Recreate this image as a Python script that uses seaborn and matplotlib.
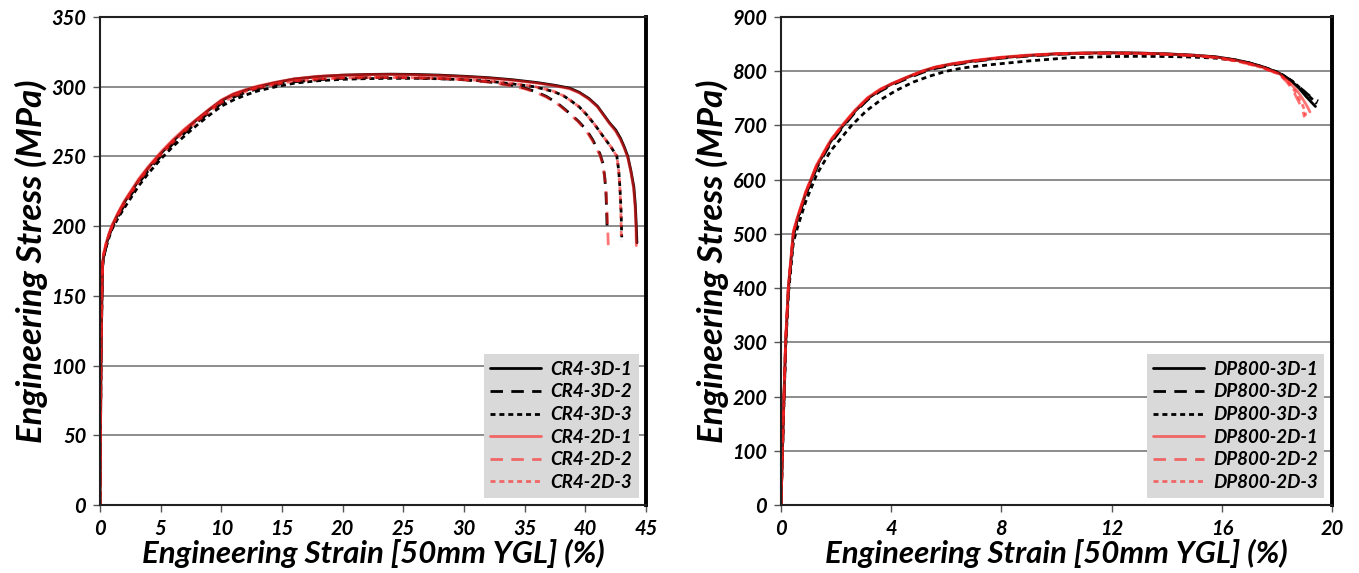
import matplotlib
matplotlib.use("Agg")
import matplotlib.pyplot as plt
import seaborn as sns

# ---------------- data: CR4 ----------------
cr4_labels = ["CR4-3D-1", "CR4-3D-2", "CR4-3D-3", "CR4-2D-1", "CR4-2D-2", "CR4-2D-3"]
cr4_3d1_strain = [0, 0.08, 0.16, 0.22, 0.3, 0.5, 0.75, 1.0, 1.5, 2.0, 2.6, 3.2, 4.0, 5.0, 6.0, 7.0, 8.0, 9.0, 10.0, 11.0, 12.0, 13.0, 14.5, 16.0, 18.0, 20.0, 22.0, 24.0, 26.0, 28.0, 30.0, 32.0, 34.0, 36.0, 37.5, 38.7, 39.5, 40.3, 41.0, 41.5, 42.0, 42.5, 42.9, 43.2, 43.5, 43.75, 44.0, 44.12, 44.2, 44.25]
cr4_3d1_stress = [0, 100, 150, 172, 178, 186, 194, 200, 209, 217, 225, 233, 242, 252, 261, 269, 276.5, 283.5, 290, 294.5, 297.5, 300, 303, 305.5, 307.3, 308.3, 308.8, 309, 308.8, 308.3, 307.5, 306.5, 305, 303, 301, 299, 296, 291.5, 286, 280, 274, 269, 263, 257, 250, 240, 228, 215, 200, 188]
cr4_3d2_strain = [0, 0.08, 0.16, 0.22, 0.3, 0.5, 0.75, 1.0, 1.5, 2.0, 2.6, 3.2, 4.0, 5.0, 6.0, 7.0, 8.0, 9.0, 10.0, 11.0, 12.0, 13.0, 14.5, 16.0, 18.0, 20.0, 22.0, 24.0, 26.0, 28.0, 30.0, 32.0, 34.0, 35.0, 35.9, 36.8, 37.8, 38.7, 39.4, 40.1, 40.6, 40.9, 41.2, 41.45, 41.6, 41.7, 41.76, 41.8]
cr4_3d2_stress = [0, 100, 150, 172, 178, 185, 193, 199, 207, 215, 223, 231, 240, 250, 259, 267, 274.5, 281.5, 288, 292.5, 296, 298.5, 301.5, 303.5, 305, 306, 306.5, 306.5, 306.3, 305.8, 305, 303.5, 301, 299, 296.5, 293, 287.5, 281, 275.5, 269, 262, 257, 252, 245, 235, 224, 210, 196]
cr4_3d3_strain = [0, 0.08, 0.16, 0.22, 0.3, 0.5, 0.75, 1.0, 1.5, 2.0, 2.6, 3.2, 4.0, 5.0, 6.0, 7.0, 8.0, 9.0, 10.0, 11.0, 12.0, 13.0, 14.5, 16.0, 18.0, 20.0, 22.0, 24.0, 26.0, 28.0, 30.0, 32.0, 34.0, 35.8, 37.4, 38.2, 38.8, 39.5, 40.1, 40.8, 41.5, 42.1, 42.6, 42.75, 42.85, 42.95, 43.0]
cr4_3d3_stress = [0, 100, 150, 172, 178, 185, 192, 198, 206, 213, 221, 229, 238, 248, 257, 265, 272.5, 279.5, 286, 290.5, 294, 297, 300, 302.5, 304.3, 305.3, 305.8, 306, 306, 305.7, 305, 304, 302, 300, 296.5, 293.5, 290, 285.5, 280, 272.5, 264, 257, 250, 240, 228, 210, 192]
cr4_2d1_strain = [0, 0.08, 0.16, 0.22, 0.3, 0.5, 0.75, 1.0, 1.5, 2.0, 2.6, 3.2, 4.0, 5.0, 6.0, 7.0, 8.0, 9.0, 10.0, 11.0, 12.0, 13.0, 14.5, 16.0, 18.0, 20.0, 22.0, 24.0, 26.0, 28.0, 30.0, 32.0, 34.0, 36.0, 37.5, 38.7, 39.5, 40.3, 41.0, 41.5, 42.0, 42.5, 42.9, 43.2, 43.5, 43.75, 43.98, 44.1, 44.17, 44.2]
cr4_2d1_stress = [0, 105, 155, 174, 180, 188, 195, 201, 210, 218, 226, 234, 243, 253, 262, 270, 277, 284, 290.5, 295, 298, 300.5, 303.3, 305.7, 307.5, 308.3, 308.7, 308.8, 308.5, 308, 307.2, 306.2, 304.6, 302.6, 300.6, 298.5, 295.5, 291, 285.5, 279.5, 273.5, 268, 262, 256, 249, 239, 227, 214, 200, 186]
cr4_2d2_strain = [0, 0.08, 0.16, 0.22, 0.3, 0.5, 0.75, 1.0, 1.5, 2.0, 2.6, 3.2, 4.0, 5.0, 6.0, 7.0, 8.0, 9.0, 10.0, 11.0, 12.0, 13.0, 14.5, 16.0, 18.0, 20.0, 22.0, 24.0, 26.0, 28.0, 30.0, 32.0, 34.0, 35.0, 35.9, 36.8, 37.8, 38.7, 39.4, 40.1, 40.6, 40.9, 41.2, 41.45, 41.62, 41.74, 41.83, 41.9]
cr4_2d2_stress = [0, 105, 155, 174, 180, 187, 194, 200, 209, 217, 225, 233, 242, 252, 261, 269, 276, 283, 289.5, 294, 297, 299.5, 302.3, 304.3, 305.7, 306.5, 306.8, 306.8, 306.5, 306, 305, 303.3, 300.5, 298.5, 296, 292.5, 287, 280.5, 275, 268, 261, 256, 251, 244, 233, 220, 202, 184]
cr4_2d3_strain = [0, 0.08, 0.16, 0.22, 0.3, 0.5, 0.75, 1.0, 1.5, 2.0, 2.6, 3.2, 4.0, 5.0, 6.0, 7.0, 8.0, 9.0, 10.0, 11.0, 12.0, 13.0, 14.5, 16.0, 18.0, 20.0, 22.0, 24.0, 26.0, 28.0, 30.0, 32.0, 34.0, 35.8, 37.4, 38.2, 38.8, 39.5, 40.1, 40.8, 41.5, 42.1, 42.6, 42.75, 42.85, 42.93, 42.97]
cr4_2d3_stress = [0, 105, 155, 174, 180, 187, 194, 200, 208, 216, 224, 232, 241, 251, 260, 268, 275, 282, 288.5, 293, 296.5, 299, 301.8, 304, 305.5, 306.3, 306.6, 306.6, 306.4, 306, 305.2, 304.2, 302.3, 300.2, 296.7, 293.5, 290, 285.5, 280, 272.5, 264, 257, 250, 240, 227, 208, 190]

# ---------------- data: DP800 ----------------
dp_labels = ["DP800-3D-1", "DP800-3D-2", "DP800-3D-3", "DP800-2D-1", "DP800-2D-2", "DP800-2D-3"]
dp_3d1_strain = [0, 0.08, 0.17, 0.27, 0.45, 0.6, 0.9, 1.3, 1.8, 2.26, 2.7, 3.16, 3.6, 4.0, 4.6, 5.15, 5.6, 6.2, 7.0, 8.0, 9.0, 10.0, 11.0, 12.0, 13.0, 14.0, 15.0, 15.8, 16.5, 17.0, 17.5, 18.1, 18.5, 18.8, 19.05, 19.25, 19.4]
dp_3d1_stress = [0, 150, 300, 400, 500, 528, 575, 625, 670, 700, 727, 750, 765, 776, 789, 800, 807, 813, 819, 825, 829, 832, 833.5, 834, 833.5, 832, 829.5, 826.5, 821, 815.5, 808, 796, 783, 769, 754, 743, 735]
dp_3d2_strain = [0, 0.08, 0.17, 0.27, 0.45, 0.6, 0.9, 1.3, 1.8, 2.26, 2.7, 3.16, 3.6, 4.0, 4.6, 5.15, 5.6, 6.2, 7.0, 8.0, 9.0, 10.0, 11.0, 12.0, 13.0, 14.0, 15.0, 15.8, 16.5, 17.0, 17.5, 18.1, 18.55, 18.9, 19.15, 19.35, 19.5]
dp_3d2_stress = [0, 150, 298, 398, 497, 525, 572, 622, 667, 698, 725, 748, 763, 774, 787, 798, 805, 811, 818, 824, 828, 831, 833, 833.5, 833, 831.5, 829, 826, 820.5, 815, 807.5, 796, 782, 767, 756, 749, 745]
dp_3d3_strain = [0, 0.08, 0.17, 0.27, 0.45, 0.6, 0.9, 1.3, 1.8, 2.56, 3.1, 3.7, 4.2, 4.8, 5.4, 6.0, 6.6, 7.22, 8.0, 9.0, 10.5, 12.0, 13.0, 14.1, 15.0, 15.8, 16.5, 17.0, 17.5, 18.1, 18.6, 19.0, 19.25, 19.45]
dp_3d3_stress = [0, 145, 290, 390, 485, 512, 560, 610, 653, 700, 727, 750, 765, 780, 791, 800, 806, 810, 814, 819, 825, 827, 827.5, 827, 826, 824, 820, 815, 808, 797, 780, 762, 750, 740]
dp_2d1_strain = [0, 0.08, 0.17, 0.27, 0.45, 0.6, 0.9, 1.3, 1.8, 2.26, 2.7, 3.16, 3.6, 4.0, 4.6, 5.15, 5.6, 6.2, 7.0, 8.0, 9.0, 10.0, 11.0, 12.0, 13.0, 14.0, 15.0, 15.8, 16.5, 17.0, 17.5, 18.1, 18.45, 18.75, 18.95, 19.1, 19.2]
dp_2d1_stress = [0, 155, 305, 405, 505, 532, 578, 628, 673, 703, 729, 752, 767, 777, 790, 801, 808, 814, 820, 826, 830, 832.5, 834, 834, 833.5, 832, 829.5, 826, 820, 814.5, 807, 795, 780, 763, 748, 735, 725]
dp_2d2_strain = [0, 0.08, 0.17, 0.27, 0.45, 0.6, 0.9, 1.3, 1.8, 2.26, 2.7, 3.16, 3.6, 4.0, 4.6, 5.15, 5.6, 6.2, 7.0, 8.0, 9.0, 10.0, 11.0, 12.0, 13.0, 14.0, 15.0, 15.8, 16.5, 17.0, 17.5, 18.1, 18.4, 18.65, 18.85, 18.95, 19.0]
dp_2d2_stress = [0, 155, 305, 405, 503, 530, 577, 627, 672, 702, 728, 751, 766, 776, 789, 800, 807, 813, 819, 825, 829, 832, 833, 833, 832.5, 831, 828.5, 825, 819, 813, 806, 794, 778, 758, 738, 726, 715]
dp_2d3_strain = [0, 0.08, 0.17, 0.27, 0.45, 0.6, 0.9, 1.3, 1.8, 2.26, 2.7, 3.16, 3.6, 4.0, 4.6, 5.15, 5.6, 6.2, 7.0, 8.0, 9.0, 10.0, 11.0, 12.0, 13.0, 14.0, 15.0, 15.8, 16.5, 17.0, 17.5, 18.1, 18.42, 18.7, 18.9, 19.0, 19.05]
dp_2d3_stress = [0, 155, 305, 405, 503, 530, 577, 627, 672, 702, 728, 751, 766, 776, 789, 800, 807, 813, 819, 825, 829, 832, 833, 833, 832.5, 831, 828.5, 825, 819, 813, 806, 794, 779, 760, 741, 729, 718]

cr4_x_ticks = [0, 5, 10, 15, 20, 25, 30, 35, 40, 45]
cr4_y_ticks = [0, 50, 100, 150, 200, 250, 300, 350]
dp_x_ticks = [0, 4, 8, 12, 16, 20]
dp_y_ticks = [0, 100, 200, 300, 400, 500, 600, 700, 800, 900]

xlabel = "Engineering Strain [50mm YGL] (%)"
ylabel = "Engineering Stress (MPa)"

# ---------------- style ----------------
sns.set_theme(style="white")
plt.rcParams["font.family"] = ["Lato", "DejaVu Sans"]
plt.rcParams["text.color"] = "black"
plt.rcParams["axes.labelcolor"] = "black"
plt.rcParams["xtick.color"] = "black"
plt.rcParams["ytick.color"] = "black"

BLACK = "#000000"
RED = "#FF2020"
styles = [
    dict(color=BLACK, linestyle="-", alpha=1.0),
    dict(color=BLACK, linestyle=(0, (4.5, 3.0)), alpha=1.0),
    dict(color=BLACK, linestyle=(0, (1.8, 1.4)), alpha=1.0),
    dict(color=RED, linestyle="-", alpha=0.62),
    dict(color=RED, linestyle=(0, (4.5, 3.0)), alpha=0.62),
    dict(color=RED, linestyle=(0, (1.8, 1.4)), alpha=0.62),
]

fig = plt.figure(figsize=(13.59, 5.73), dpi=100)
axL = fig.add_axes([100 / 1359, 1 - 505 / 573, 546 / 1359, 488 / 573])
axR = fig.add_axes([781 / 1359, 1 - 505 / 573, 551 / 1359, 488 / 573])

cr4_data = [(cr4_3d1_strain, cr4_3d1_stress), (cr4_3d2_strain, cr4_3d2_stress), (cr4_3d3_strain, cr4_3d3_stress),
            (cr4_2d1_strain, cr4_2d1_stress), (cr4_2d2_strain, cr4_2d2_stress), (cr4_2d3_strain, cr4_2d3_stress)]
dp_data = [(dp_3d1_strain, dp_3d1_stress), (dp_3d2_strain, dp_3d2_stress), (dp_3d3_strain, dp_3d3_stress),
           (dp_2d1_strain, dp_2d1_stress), (dp_2d2_strain, dp_2d2_stress), (dp_2d3_strain, dp_2d3_stress)]

tick_font = dict(fontsize=14.5, fontweight="bold", fontstyle="italic", color="black")
xlabel_font = dict(fontsize=22.5, fontweight="bold", fontstyle="italic", color="black")
ylabel_font = dict(fontsize=25, fontweight="bold", fontstyle="italic", color="black")


def draw(ax, data, labels, xt, yt):
    for (sx, sy), lab, st in zip(data, labels, styles):
        sns.lineplot(x=sx, y=sy, ax=ax, sort=False, estimator=None, label=lab,
                     color=st["color"], linestyle=st["linestyle"], alpha=st["alpha"],
                     linewidth=2.0)
    ax.set_xlim(xt[0], xt[-1])
    ax.set_ylim(yt[0], yt[-1])
    ax.set_xticks(xt)
    ax.set_yticks(yt)
    ax.set_xticklabels([str(v) for v in xt], **tick_font)
    ax.set_yticklabels([str(v) for v in yt], **tick_font)
    ax.yaxis.grid(True, color="#8C8C8C", linewidth=1.4)
    ax.xaxis.grid(False)
    ax.set_axisbelow(True)
    ax.tick_params(axis="both", direction="out", length=5, width=1.0, color="#555555",
                   bottom=True, left=True, pad=5, labelcolor="black")
    for side in ["top", "bottom", "left"]:
        ax.spines[side].set_color("#202020")
        ax.spines[side].set_linewidth(1.5)
    ax.spines["right"].set_color("black")
    ax.spines["right"].set_linewidth(2.8)
    ax.set_xlabel(xlabel, labelpad=0, **xlabel_font)
    ax.set_ylabel(ylabel, labelpad=2, **ylabel_font)
    leg = ax.legend(loc="lower right", frameon=True, fancybox=False, framealpha=1,
                    facecolor="#D9D9D9", edgecolor="none", handlelength=2.7,
                    labelspacing=0.3, borderaxespad=0.4, borderpad=0.35, handletextpad=0.5,
                    labelcolor="black",
                    prop=dict(family=["Lato", "DejaVu Sans"], size=13.5, weight="bold", style="italic"))
    leg.get_frame().set_linewidth(0)


draw(axL, cr4_data, cr4_labels, cr4_x_ticks, cr4_y_ticks)
draw(axR, dp_data, dp_labels, dp_x_ticks, dp_y_ticks)

fig.savefig("out.png", dpi=100)
